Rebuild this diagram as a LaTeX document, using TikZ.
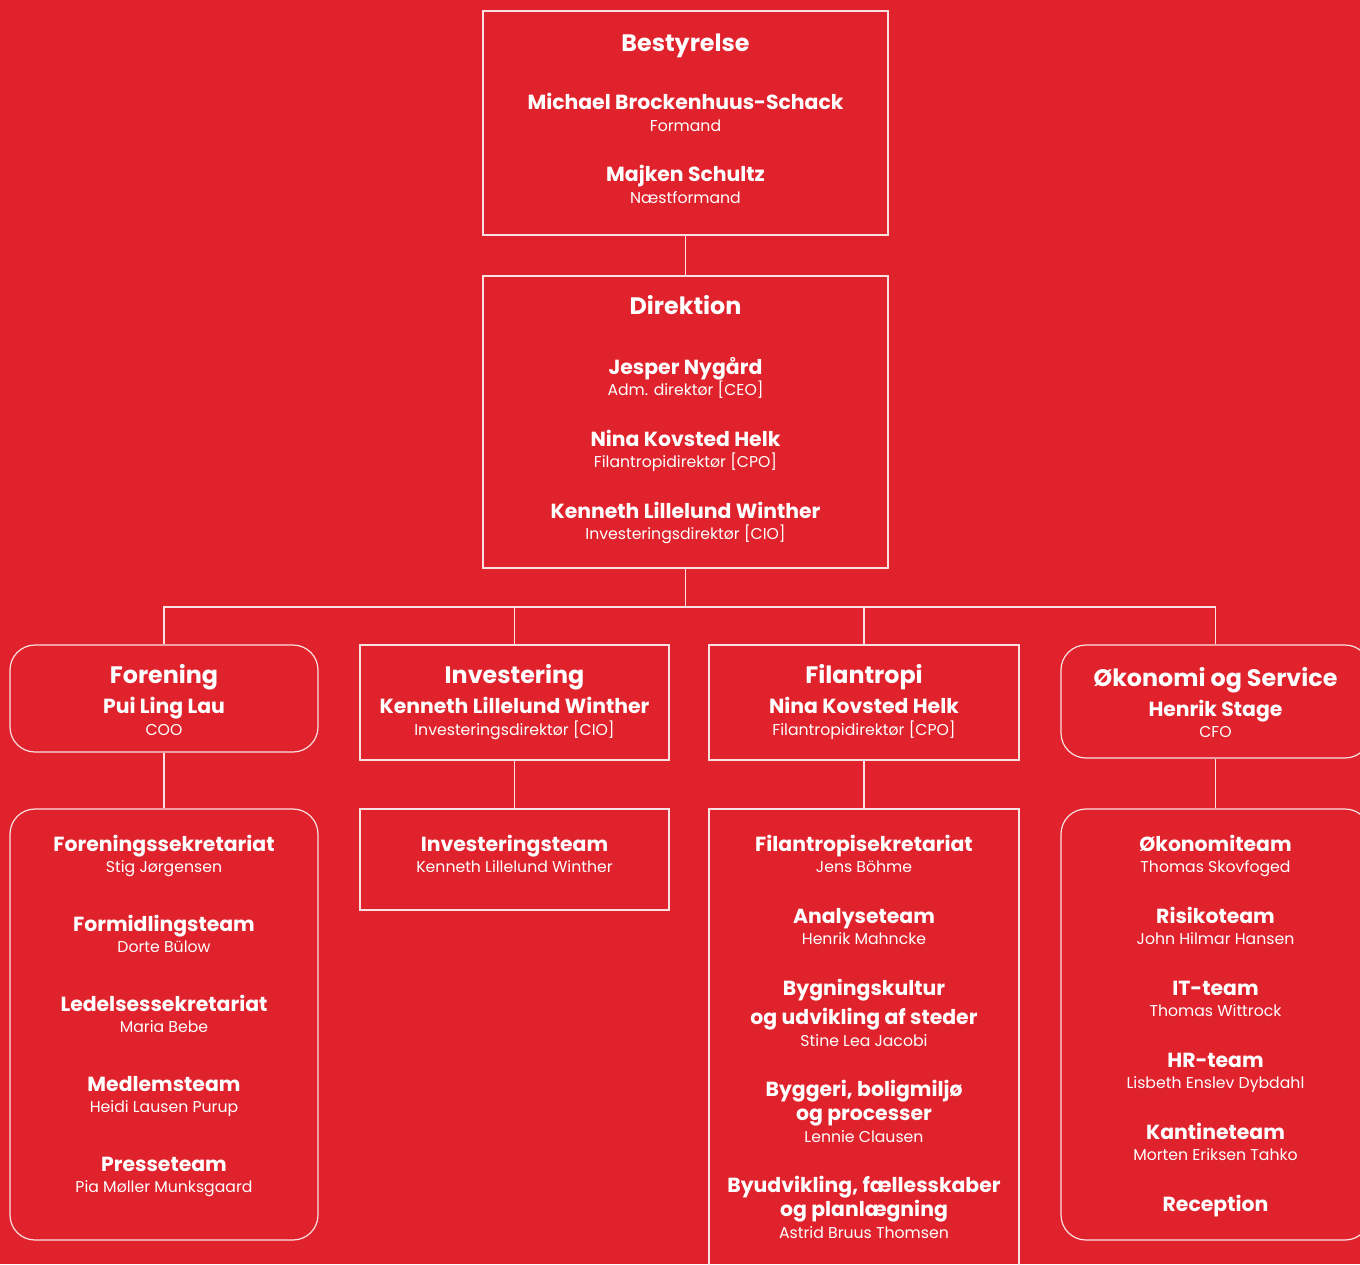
\documentclass[tikz,border=0pt]{standalone}
\usepackage{fontspec}
\setmainfont{Poppins}
\definecolor{bgred}{RGB}{224,34,44}
\definecolor{lnw}{RGB}{250,225,225}
\tikzset{
  sq/.style={draw=lnw, line width=1.2pt, inner sep=0pt},
  rd/.style={sq, rounded corners=25pt},
  conn/.style={draw=lnw, line width=1.2pt},
  txt/.style={text=white, inner sep=0pt, anchor=base},
  ttl/.style={txt, font=\fontsize{23.8}{23.8}\selectfont\bfseries},
  nm/.style={txt, font=\fontsize{20.4}{20.4}\selectfont\bfseries},
  sub/.style={txt, font=\fontsize{15.7}{15.7}\selectfont},
}
\begin{document}
\begin{tikzpicture}[x=1pt,y=-1pt]
\useasboundingbox (0,0) rectangle (1360,1264);
\fill[bgred] (0,0) rectangle (1360,1264);
\clip (0,0) rectangle (1360,1264);
% boxes
\node[sq, minimum width=405pt, minimum height=224pt] (best) at (685.5,123) {};
\node[sq, minimum width=405pt, minimum height=292pt] (dir) at (685.5,422) {};
\node[rd, minimum width=308pt, minimum height=107pt] (foren) at (164,698.5) {};
\node[sq, minimum width=309pt, minimum height=115pt] (inv) at (514.5,702.5) {};
\node[sq, minimum width=310pt, minimum height=115pt] (fil) at (864,702.5) {};
\node[rd, minimum width=309pt, minimum height=113pt] (okon) at (1215.5,701.5) {};
\node[rd, minimum width=308pt, minimum height=431pt] (forkids) at (164,1024.5) {};
\node[sq, minimum width=309pt, minimum height=101pt] (invteam) at (514.5,859.5) {};
\node[sq, minimum width=310pt, minimum height=491pt] (filkids) at (864,1054.5) {};
\node[rd, minimum width=309pt, minimum height=431pt] (okonkids) at (1215.5,1024.5) {};
% connectors
\coordinate (bus) at (685.5,607);
\draw[conn] (best) -- (dir);
\draw[conn] (dir.south) -- (bus);
\draw[conn] (foren.north) |- (bus) -| (okon.north);
\draw[conn] (inv.north) -- (inv.north |- bus);
\draw[conn] (fil.north) -- (fil.north |- bus);
\draw[conn] (foren) -- (forkids);
\draw[conn] (inv) -- (invteam);
\draw[conn] (fil) -- (filkids);
\draw[conn] (okon) -- (okonkids);
% Bestyrelse
\node[ttl] (b1) at (685.5,51) {Bestyrelse};
\node[nm] (b2) at (685.5,109) {Michael Brockenhuus-Schack};
\node[sub] (b3) at (685.5,131) {Formand};
\node[nm] (b4) at (685.5,181) {Majken Schultz};
\node[sub] (b5) at (685.5,203) {Næstformand};
% Direktion
\node[ttl] (d1) at (685.5,314) {Direktion};
\node[nm] (d2) at (685.5,374) {Jesper Nygård};
\node[sub] (d3) at (685.5,395) {Adm. direktør [CEO]};
\node[nm] (d4) at (685.5,446) {Nina Kovsted Helk};
\node[sub] (d5) at (685.5,467) {Filantropidirektør [CPO]};
\node[nm] (d6) at (685.5,518) {Kenneth Lillelund Winther};
\node[sub] (d7) at (685.5,539) {Investeringsdirektør [CIO]};
% second row
\node[ttl] (f1) at (164,683) {Forening};
\node[nm] (f2) at (164,713) {Pui Ling Lau};
\node[sub] (f3) at (164,735) {COO};
\node[ttl] (i1) at (514.5,683) {Investering};
\node[nm] (i2) at (514.5,713) {Kenneth Lillelund Winther};
\node[sub] (i3) at (514.5,735) {Investeringsdirektør [CIO]};
\node[ttl] (p1) at (864,683) {Filantropi};
\node[nm] (p2) at (864,713) {Nina Kovsted Helk};
\node[sub] (p3) at (864,735) {Filantropidirektør [CPO]};
\node[ttl] (o1) at (1215.5,686) {Økonomi og Service};
\node[nm] (o2) at (1215.5,716) {Henrik Stage};
\node[sub] (o3) at (1215.5,737) {CFO};
% Forening teams
\node[nm] (fa1) at (164,851) {Foreningssekretariat};
\node[sub] (fa2) at (164,872) {Stig Jørgensen};
\node[nm] (fb1) at (164,931) {Formidlingsteam};
\node[sub] (fb2) at (164,952) {Dorte Bülow};
\node[nm] (fc1) at (164,1011) {Ledelsessekretariat};
\node[sub] (fc2) at (164,1032) {Maria Bebe};
\node[nm] (fd1) at (164,1091) {Medlemsteam};
\node[sub] (fd2) at (164,1112) {Heidi Lausen Purup};
\node[nm] (fe1) at (164,1171) {Presseteam};
\node[sub] (fe2) at (164,1192) {Pia Møller Munksgaard};
% Investering team
\node[nm] (ia1) at (514.5,851) {Investeringsteam};
\node[sub] (ia2) at (514.5,872) {Kenneth Lillelund Winther};
% Filantropi teams
\node[nm] (pa1) at (864,851) {Filantropisekretariat};
\node[sub] (pa2) at (864,872) {Jens Böhme};
\node[nm] (pb1) at (864,923) {Analyseteam};
\node[sub] (pb2) at (864,944) {Henrik Mahncke};
\node[nm] (pc1) at (864,995) {Bygningskultur};
\node[nm] (pc2) at (864,1024) {og udvikling af steder};
\node[sub] (pc3) at (864,1046) {Stine Lea Jacobi};
\node[nm] (pd1) at (864,1096) {Byggeri, boligmiljø};
\node[nm] (pd2) at (864,1120) {og processer};
\node[sub] (pd3) at (864,1142) {Lennie Clausen};
\node[nm] (pe1) at (864,1192) {Byudvikling, fællesskaber};
\node[nm] (pe2) at (864,1216) {og planlægning};
\node[sub] (pe3) at (864,1238) {Astrid Bruus Thomsen};
% Okonomi teams
\node[nm] (oa1) at (1215.5,851) {Økonomiteam};
\node[sub] (oa2) at (1215.5,872) {Thomas Skovfoged};
\node[nm] (ob1) at (1215.5,923) {Risikoteam};
\node[sub] (ob2) at (1215.5,944) {John Hilmar Hansen};
\node[nm] (oc1) at (1215.5,995) {IT-team};
\node[sub] (oc2) at (1215.5,1016) {Thomas Wittrock};
\node[nm] (od1) at (1215.5,1067) {HR-team};
\node[sub] (od2) at (1215.5,1088) {Lisbeth Enslev Dybdahl};
\node[nm] (oe1) at (1215.5,1139) {Kantineteam};
\node[sub] (oe2) at (1215.5,1160) {Morten Eriksen Tahko};
\node[nm] (of1) at (1215.5,1211) {Reception};
\end{tikzpicture}
\end{document}
